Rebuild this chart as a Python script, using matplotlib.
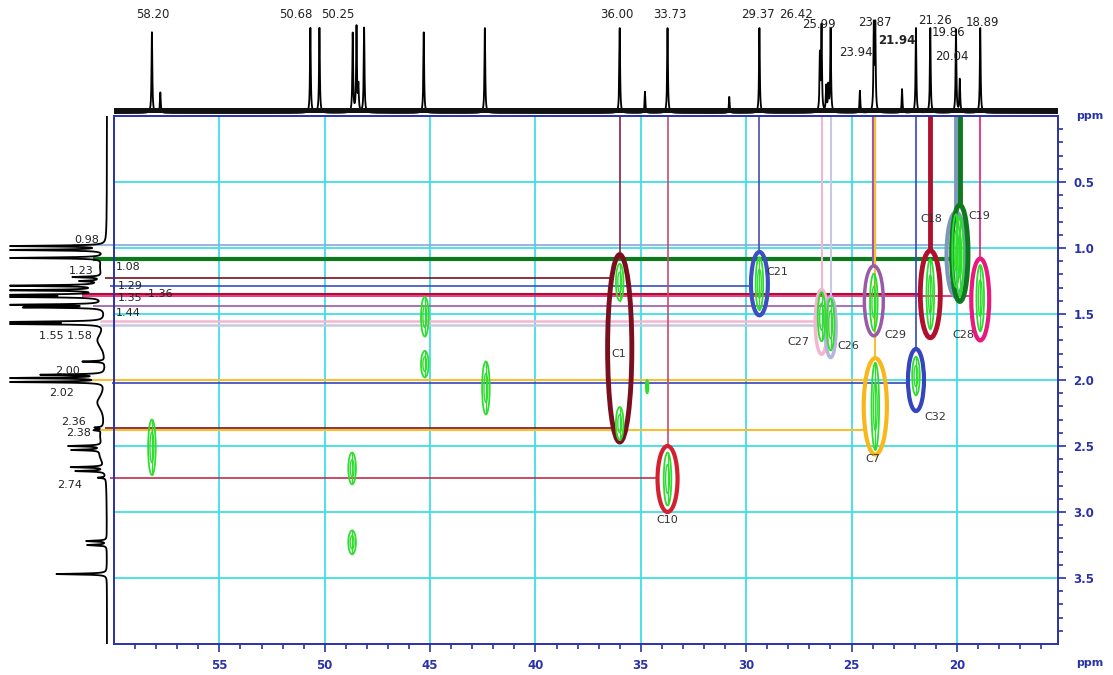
import numpy as np
import matplotlib
matplotlib.use("Agg")
import matplotlib.pyplot as plt
from matplotlib.patches import Ellipse

# ---- 13C projection (top trace): shift, relative height
c13_ppm = [58.20, 57.80, 50.68, 50.25, 48.67, 48.49, 48.40, 48.13, 45.30, 42.40,
           36.00, 34.80, 33.73, 30.80, 29.37, 26.50, 26.42, 26.20, 26.10, 25.99,
           24.60, 23.94, 23.87, 22.60, 21.94, 21.26, 20.04, 19.86, 18.89]
c13_int = [0.95, 0.24, 1.00, 1.00, 0.93, 1.00, 0.30, 1.00, 0.95, 1.00,
           1.00, 0.25, 1.00, 0.19, 1.00, 0.66, 1.00, 0.30, 0.30, 0.98,
           0.26, 1.00, 1.00, 0.28, 1.00, 1.00, 0.98, 0.39, 1.00]
c13_labels = ["58.20", "50.68", "50.25", "36.00", "33.73", "29.37", "26.42", "25.99",
              "23.87", "23.94", "21.94", "21.26", "19.86", "20.04", "18.89"]

# ---- 1H projection (left trace): sharp lines and broad humps
h1_ppm = [0.985, 1.015, 1.075, 1.22, 1.25, 1.285, 1.32, 1.355, 1.37, 1.43, 1.45,
          1.56, 1.575, 1.86, 1.96, 1.985, 2.015, 2.36, 2.38, 2.50, 2.53, 2.66,
          2.69, 2.74, 3.22, 3.25, 3.47]
h1_int = [1.0, 1.0, 1.0, 0.29, 0.20, 1.0, 1.0, 1.0, 1.0, 1.0, 0.80,
          1.0, 1.0, 0.23, 0.64, 1.0, 1.0, 0.08, 0.08, 0.34, 0.30, 0.34,
          0.30, 0.08, 0.21, 0.20, 0.52]
h1_broad_ppm = [1.14, 1.30, 1.70, 2.17, 2.42, 2.57]
h1_broad_int = [0.05, 0.07, 0.09, 0.09, 0.05, 0.06]
h1_labels = ["0.98", "1.08", "1.23", "1.29", "1.35", "-1.36", "1.44",
             "1.55 1.58", "2.00", "2.02", "2.36", "2.38", "2.74"]

# ---- HSQC cross peaks (13C, 1H, 1H extent)
cross_c = [58.20, 48.70, 48.70, 45.25, 45.25, 42.35, 36.00, 36.00, 34.70, 33.73,
           29.37, 26.42, 25.99, 23.94, 23.87, 21.94, 21.26, 20.04, 19.86, 18.89]
cross_h = [2.51, 2.67, 3.23, 1.52, 1.88, 2.06, 1.26, 2.33, 2.05, 2.75,
           1.27, 1.52, 1.58, 1.41, 2.20, 1.97, 1.35, 1.02, 1.06, 1.38]
cross_span = [0.42, 0.24, 0.18, 0.30, 0.20, 0.40, 0.28, 0.25, 0.10, 0.40,
              0.40, 0.37, 0.39, 0.43, 0.66, 0.29, 0.53, 0.55, 0.60, 0.50]

# ---- assigned carbons
assign_names = ["C1", "C10", "C21", "C27", "C26", "C29", "C7", "C32", "C28", "C18", "C19", ""]
assign_c = [36.00, 33.73, 29.37, 26.42, 25.99, 23.94, 23.87, 21.94, 21.26, 20.04, 19.86, 18.89]
assign_h = [1.76, 2.75, 1.27, 1.56, 1.60, 1.40, 2.20, 2.00, 1.35, 1.05, 1.04, 1.39]

# proton correlations drawn across from the 1H trace: (shift, target assignment)
link_h = [0.98, 1.08, 1.23, 1.29, 1.35, 1.36, 1.44, 1.55, 1.58, 2.00, 2.02, 2.36, 2.38, 2.74]
link_to = [9, 10, 0, 2, 8, 11, 5, 3, 4, 6, 7, 0, 6, 1]

# ---------------- layout / styles ----------------
W, H = 1113, 675
AX_L, AX_R, AX_T, AX_B = 114, 1058, 116, 644
XL, XR = 60.0, 15.2
YT, YB = 0.0, 4.0
PX_PER_PPM = (AX_R - AX_L) / (XL - XR)
NAVY = "#2A32A8"
CYAN = "#3EDFE6"
GREEN = "#2EDD2E"

ell_w = [1.15, 0.95, 0.80, 0.60, 0.52, 0.90, 1.10, 0.76, 0.95, 0.90, 0.78, 0.85]
ell_h = [1.42, 0.50, 0.48, 0.49, 0.46, 0.53, 0.73, 0.47, 0.66, 0.64, 0.73, 0.62]
ell_lw = [3.5, 3, 3, 2.5, 2.5, 2.5, 3, 3, 3.5, 3, 3.5, 3]
ell_col = ["#7A0F1F", "#D42030", "#3A4FC0", "#F2B6CF", "#B4B4DC", "#9A5AA8",
           "#F8B81C", "#3545BF", "#B0102E", "#7C96BC", "#0E7A1E", "#E8187C"]
vline_col = ["#8A2040", "#C05070", "#4A4AB0", "#F2B6CF", "#C8C8E4", "#9A5AA8",
             "#F8C030", "#3545BF", "#B0102E", "#7C96BC", "#0E7A1E", "#E8187C"]
vline_lw = [1.2, 1.2, 1.2, 1.5, 1.5, 3, 1.5, 1.2, 3.5, 3.5, 3.5, 1.2]
name_pos = [(36.04, 1.80), (33.76, 3.06), (28.50, 1.18), (27.54, 1.71), (25.17, 1.74),
            (22.93, 1.66), (23.98, 2.60), (21.03, 2.28), (19.69, 1.66), (21.20, 0.78),
            (18.92, 0.76), (0, 0)]

link_col = ["#8FA8D8", "#0E7A1E", "#7A0F1F", "#3A4FC0", "#B0102E", "#E8187C", "#9A5AA8",
            "#F2B6CF", "#C8C8E4", "#F8C030", "#3545BF", "#7A0F1F", "#F8C030", "#C0304A"]
link_lw = [1.2, 3, 1.2, 1.2, 1.5, 1.2, 1.2, 1.8, 1.8, 1.5, 1.2, 1.2, 1.5, 1.2]
link_start_px = [72, 93, 105, 110, 82, 82, 93, 100, 100, 80, 112, 105, 100, 110]

# text positions in pixels (x, y, ha)
c13_lab_pos = [(153, 14), (296, 14), (338, 14), (617, 14), (670, 14), (758, 14), (796, 14),
               (819, 24), (875, 22), (856, 52), (897, 41), (935, 20), (948, 32), (952, 56), (982, 22)]
h1_lab_pos = [(87, 240, "center"), (116, 267, "left"), (81, 271, "center"), (118, 286, "left"),
              (118, 298, "left"), (144, 294, "left"), (116, 313, "left"), (65, 336, "center"),
              (68, 371, "center"), (62, 393, "center"), (73, 422, "center"), (79, 433, "center"),
              (70, 485, "center")]


def frac_box(l, t, r, b):
    return [l / W, 1 - b / H, (r - l) / W, (b - t) / H]


def ellipse_x_edge(k, h):
    # left (higher ppm) edge of assignment ellipse k at proton shift h
    cy, hh = assign_h[k], ell_h[k] / 2
    t = max(0.0, 1 - ((h - cy) / hh) ** 2)
    return assign_c[k] + ell_w[k] / 2 * np.sqrt(t)


def lorentz(grid, pos, amp, g):
    out = np.zeros_like(grid)
    for p, a in zip(pos, amp):
        out += a / (1 + ((grid - p) / g) ** 2)
    return out


fig = plt.figure(figsize=(W / 100, H / 100), dpi=100)

# ---- main 2D panel
ax = fig.add_axes(frac_box(AX_L, AX_T, AX_R, AX_B))
ax.set_xlim(XL, XR)
ax.set_ylim(YB, YT)
ax.set_xticks(np.arange(20, 56, 5))
ax.set_xticks(np.arange(16, 60, 1), minor=True)
ax.set_yticks(np.arange(0.5, 3.6, 0.5))
ax.set_yticks(np.arange(0.1, 4.0, 0.1), minor=True)
ax.set_xticklabels([str(v) for v in range(20, 56, 5)])
ax.set_yticklabels(["%.1f" % v for v in np.arange(0.5, 3.6, 0.5)])
ax.yaxis.tick_right()
ax.tick_params(axis="both", which="both", direction="out", colors=NAVY, width=1.2)
ax.tick_params(axis="both", which="major", length=6, labelsize=8.5, pad=5)
ax.tick_params(axis="both", which="minor", length=3.5)
for lab in ax.get_xticklabels() + ax.get_yticklabels():
    lab.set_fontweight("bold")
    lab.set_color(NAVY)
for s in ax.spines.values():
    s.set_color(NAVY)
    s.set_linewidth(1.4)
ax.grid(True, which="major", color=CYAN, lw=1.3)
ax.set_axisbelow(True)

# horizontal 1H correlations
for h, k, col, lw, sp in zip(link_h, link_to, link_col, link_lw, link_start_px):
    x0 = XL + (AX_L - sp) / PX_PER_PPM
    ax.plot([x0, ellipse_x_edge(k, h)], [h, h], color=col, lw=lw, clip_on=False,
            solid_capstyle="butt", zorder=2)

# vertical 13C correlations from the top
for k in range(len(assign_c)):
    ax.plot([assign_c[k], assign_c[k]], [YT, assign_h[k] - ell_h[k] / 2],
            color=vline_col[k], lw=vline_lw[k], solid_capstyle="butt", zorder=2)

# cross peaks (two contour levels)
for c, h, s in zip(cross_c, cross_h, cross_span):
    w = 0.36 if s > 0.12 else 0.12
    ax.add_patch(Ellipse((c, h), w, s, fill=False, ec=GREEN, lw=1.3, zorder=4))
    ax.add_patch(Ellipse((c, h), w * 0.5, s * 0.55, fill=False, ec=GREEN, lw=1.0, zorder=4))
    ax.plot([c, c], [h - s / 2, h + s / 2], color=GREEN, lw=0.9, zorder=4)

# assignment ellipses and names
for k in range(len(assign_c)):
    ax.add_patch(Ellipse((assign_c[k], assign_h[k]), ell_w[k], ell_h[k], fill=False,
                         ec=ell_col[k], lw=ell_lw[k], zorder=3))
    if assign_names[k]:
        ax.text(name_pos[k][0], name_pos[k][1], assign_names[k], fontsize=8,
                color="#333333", ha="center", va="center", zorder=5)

# ---- top 13C projection
axt = fig.add_axes(frac_box(AX_L, 0, AX_R, AX_T))
xg = np.linspace(XR, XL, 24000)
axt.plot(xg, lorentz(xg, c13_ppm, c13_int, 0.022), color="black", lw=1.3)
axt.axhline(0.035, color="#111111", lw=3.6)
axt.set_xlim(XL, XR)
axt.set_ylim(-0.035, 1.33)
axt.axis("off")
for txt, (px, py) in zip(c13_labels, c13_lab_pos):
    fig.text(px / W, 1 - py / H, txt, fontsize=8.5, color="#222222", ha="center", va="center",
             fontweight="bold" if txt == "21.94" else "normal")

# ---- left 1H projection
axl = fig.add_axes(frac_box(0, AX_T, AX_L, AX_B))
yg = np.linspace(YT, YB, 16000)
trace = lorentz(yg, h1_ppm, h1_int, 0.004) + lorentz(yg, h1_broad_ppm, h1_broad_int, 0.07)
axl.plot(np.minimum(trace, 1.0), yg, color="black", lw=1.3)
axl.set_ylim(YB, YT)
axl.set_xlim(1.103, -0.072)
axl.axis("off")
for txt, (px, py, ha) in zip(h1_labels, h1_lab_pos):
    fig.text(px / W, 1 - py / H, txt, fontsize=8, color="#222222", ha=ha, va="center")

fig.text(1090 / W, 1 - 116 / H, "ppm", fontsize=8, color=NAVY, fontweight="bold",
         ha="center", va="center")
fig.text(1090 / W, 1 - 663 / H, "ppm", fontsize=8, color=NAVY, fontweight="bold",
         ha="center", va="center")

fig.savefig("out.png", dpi=100)
